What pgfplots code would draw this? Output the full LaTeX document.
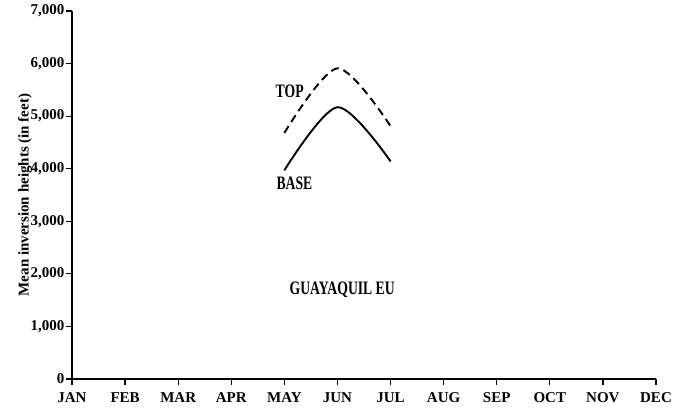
\documentclass[border=0pt]{standalone}
\usepackage{fontspec}
\setmainfont{Liberation Serif}
\newfontfamily\narrow{Liberation Serif}[FakeStretch=0.72]
\usepackage{pgfplots}
\pgfplotsset{compat=1.18}
\begin{document}
\begin{tikzpicture}[x=1pt,y=1pt]
\begin{axis}[
  at={(0,0)}, anchor=south west,
  scale only axis, width=584pt, height=368pt,
  xmin=0, xmax=11, ymin=0, ymax=7000,
  axis lines=left, axis line style={-, line width=1.4pt},
  tick align=outside, major tick length=6pt,
  tick style={line width=1.2pt, black},
  xtick={0,...,11},
  xticklabels={JAN,FEB,MAR,APR,MAY,JUN,JUL,AUG,SEP,OCT,NOV,DEC},
  ytick={0,1000,...,7000},
  /pgf/number format/assume math mode=true,
  /pgf/number format/1000 sep={,},
  scaled y ticks=false,
  ticklabel style={font=\fontsize{15}{15}\selectfont\bfseries},
  xticklabel style={yshift=-4pt},
  yticklabel style={xshift=2pt},
  ylabel={Mean inversion heights (in feet)},
  ylabel style={font=\fontsize{15}{15}\selectfont\bfseries, yshift=-8pt},
  clip=false,
]
\addplot[black, line width=1.9pt, dash pattern=on 8pt off 5pt, smooth] coordinates {(4,4680) (5,5910) (6,4810)};
\addplot[black, line width=1.9pt, smooth] coordinates {(4,3970) (5,5170) (6,4140)};
\node[font=\narrow\fontsize{19}{19}\selectfont\bfseries] at (axis cs:4.10,5480) {TOP};
\node[font=\narrow\fontsize{19}{19}\selectfont\bfseries] at (axis cs:4.19,3730) {BASE};
\node[font=\narrow\fontsize{19}{19}\selectfont\bfseries] at (axis cs:5.09,1690) {GUAYAQUIL EU};
\end{axis}
\pgfresetboundingbox
\path (-72,-38) rectangle (606,379);
\end{tikzpicture}
\end{document}
